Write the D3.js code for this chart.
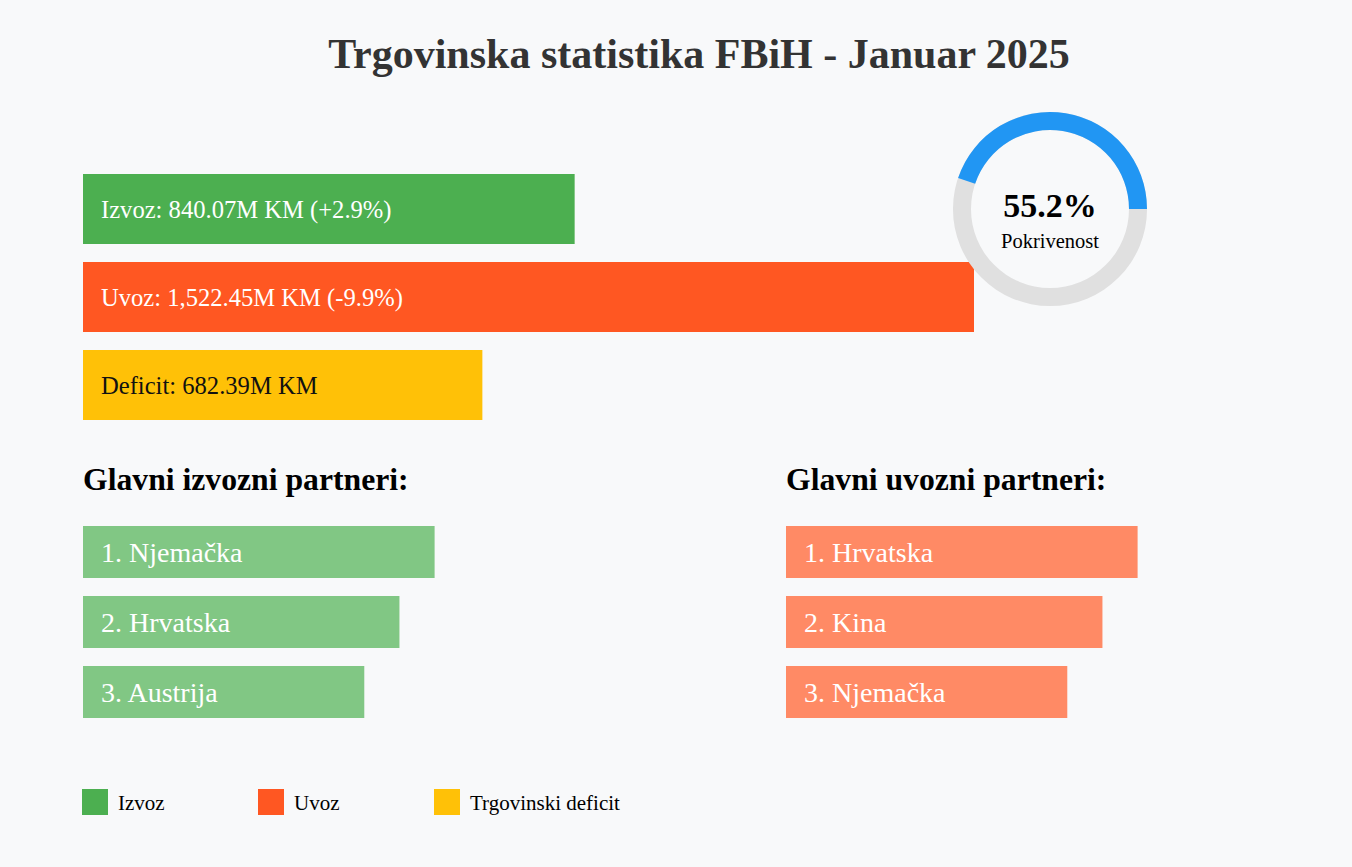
<!DOCTYPE html>
<html>
<head>
<meta charset="utf-8">
<script src="https://cdn.jsdelivr.net/npm/d3@7"></script>
<style>
  body { margin: 0; background: #f8f9fa; font-family: "Liberation Serif", "Times New Roman", serif; }
  svg { display: block; }
</style>
</head>
<body>
<div id="chart"></div>
<script>
// Main trade values (million KM)
const tradeKeys = ["izvoz", "uvoz", "deficit"];
const tradeValues = [840.07, 1522.45, 682.39];
const tradeLabels = ["Izvoz: 840.07M KM (+2.9%)", "Uvoz: 1,522.45M KM (-9.9%)", "Deficit: 682.39M KM"];

// Top partners (ranked, bar length by relative weight)
const exportPartners = ["Njemačka", "Hrvatska", "Austrija"];
const importPartners = ["Hrvatska", "Kina", "Njemačka"];
const partnerWeights = [1.0, 0.9, 0.8];

const legendLabels = ["Izvoz", "Uvoz", "Trgovinski deficit"];

const colors = { izvoz: "#4CAF50", uvoz: "#FF5722", deficit: "#FFC107" };
const lightColors = { izvoz: "#81C784", uvoz: "#FF8A65" };

const width = 1352;
const height = 867;
const margin = { left: 83 };

const svg = d3.select("#chart")
    .append("svg")
    .attr("width", width)
    .attr("height", height);

svg.append("rect")
    .attr("width", width)
    .attr("height", height)
    .attr("fill", "#f8f9fa");

// Title
svg.append("text")
    .attr("x", 699)
    .attr("y", 68)
    .attr("text-anchor", "middle")
    .attr("font-size", "42px")
    .attr("font-weight", "bold")
    .attr("fill", "#333")
    .text("Trgovinska statistika FBiH - Januar 2025");

// Main bars
const x = d3.scaleLinear()
    .domain([0, d3.max(tradeValues)])
    .range([0, 891]);

const y = d3.scaleBand()
    .domain(tradeKeys)
    .range([174, 420])
    .paddingInner(18 / 88);

const mainBars = svg.append("g");

mainBars.selectAll("rect")
    .data(tradeKeys)
    .enter()
    .append("rect")
    .attr("x", margin.left)
    .attr("y", d => y(d))
    .attr("width", (d, i) => x(tradeValues[i]))
    .attr("height", y.bandwidth())
    .attr("fill", d => colors[d]);

mainBars.selectAll("text")
    .data(tradeKeys)
    .enter()
    .append("text")
    .attr("x", margin.left + 18)
    .attr("y", d => y(d) + y.bandwidth() / 2)
    .attr("dy", "0.35em")
    .attr("font-size", "24.6px")
    .attr("fill", d => d === "deficit" ? "#111" : "white")
    .text((d, i) => tradeLabels[i]);

// Coverage donut
const coverage = tradeValues[0] / tradeValues[1];
const donut = svg.append("g").attr("transform", "translate(1050,209)");
const arc = d3.arc().innerRadius(79).outerRadius(97);

donut.append("path")
    .attr("d", arc({ startAngle: 0, endAngle: 2 * Math.PI }))
    .attr("fill", "#e0e0e0");

donut.append("path")
    .attr("d", arc({ startAngle: Math.PI / 2 + coverage * 2 * Math.PI, endAngle: Math.PI / 2 + 2 * Math.PI }))
    .attr("fill", "#2196F3");

donut.append("text")
    .attr("y", 8)
    .attr("text-anchor", "middle")
    .attr("font-size", "34px")
    .attr("font-weight", "bold")
    .attr("fill", "#000")
    .text(d3.format(".1%")(coverage));

donut.append("text")
    .attr("y", 39)
    .attr("text-anchor", "middle")
    .attr("font-size", "20.5px")
    .attr("fill", "#000")
    .text("Pokrivenost");

// Partner lists
const px = d3.scaleLinear().domain([0, 1]).range([0, 351.6]);
const py = d3.scaleBand()
    .domain([0, 1, 2])
    .range([526, 718])
    .paddingInner(18 / 70);

function partnerList(names, left, title, color) {
    const g = svg.append("g").attr("transform", `translate(${left},0)`);

    g.append("text")
        .attr("y", 490)
        .attr("font-size", "31.7px")
        .attr("font-weight", "bold")
        .attr("fill", "#000")
        .text(title);

    g.selectAll("rect")
        .data(names)
        .enter()
        .append("rect")
        .attr("y", (d, i) => py(i))
        .attr("width", (d, i) => px(partnerWeights[i]))
        .attr("height", py.bandwidth())
        .attr("fill", color);

    g.selectAll("text.partner")
        .data(names)
        .enter()
        .append("text")
        .attr("class", "partner")
        .attr("x", 18)
        .attr("y", (d, i) => py(i) + py.bandwidth() / 2)
        .attr("dy", "0.35em")
        .attr("font-size", "28px")
        .attr("fill", "white")
        .text((d, i) => `${i + 1}. ${d}`);
}

partnerList(exportPartners, margin.left, "Glavni izvozni partneri:", lightColors.izvoz);
partnerList(importPartners, 786, "Glavni uvozni partneri:", lightColors.uvoz);

// Legend
const legend = svg.append("g").attr("transform", "translate(82,789)");
const legendColors = [colors.izvoz, colors.uvoz, colors.deficit];

const items = legend.selectAll("g")
    .data(legendLabels)
    .enter()
    .append("g")
    .attr("transform", (d, i) => `translate(${i * 176},0)`);

items.append("rect")
    .attr("width", 26)
    .attr("height", 26)
    .attr("fill", (d, i) => legendColors[i]);

items.append("text")
    .attr("x", 36)
    .attr("y", 21)
    .attr("font-size", "21px")
    .attr("fill", "#000")
    .text(d => d);
</script>
</body>
</html>
